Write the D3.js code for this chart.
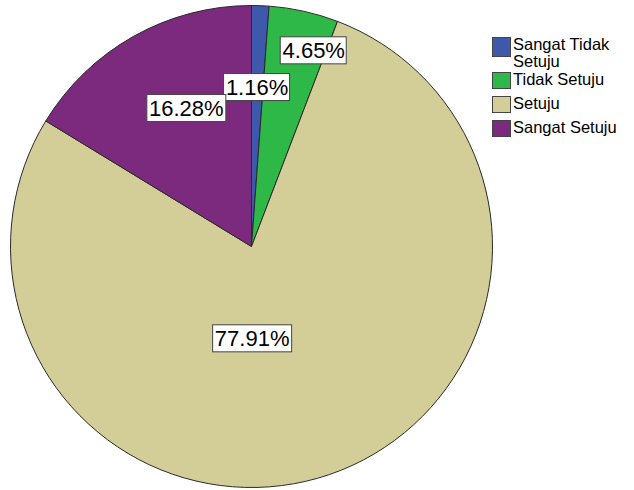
<!DOCTYPE html>
<head>
  <meta charset="utf-8">
  <title>pie</title>
</head>
<style>
body { margin: 0; background: #fff; }
svg { display: block; font-family: "Liberation Sans", Arial, sans-serif; }
.slice { stroke: #2a2a2a; stroke-width: 1; }
.lbl-box { fill: #fff; stroke: #444; stroke-width: 1; }
.lbl { font-size: 22px; fill: #000; }
.leg text { font-size: 16.5px; fill: #000; }
.leg rect { stroke: #444; stroke-width: 1; }
</style>
<body>
<svg width="634" height="490"></svg>
<script src="https://d3js.org/d3.v7.min.js"></script>
<script>
var categories = ["Sangat Tidak Setuju", "Tidak Setuju", "Setuju", "Sangat Setuju"];
var values = [1.16, 4.65, 77.91, 16.28];
var colors = ["#3e58ac", "#2eb848", "#d3ce97", "#7b2a7e"];
// legend text split into lines as in the original
var legendLines = [["Sangat Tidak", "Setuju"], ["Tidak Setuju"], ["Setuju"], ["Sangat Setuju"]];
// label placement (angle in degrees clockwise from top, radius fraction)
var labelAngle = [2.0, 17.6, 179.6, 334.8];
var labelRadius = [0.662, 0.854, 0.381, 0.635];

var svg = d3.select("svg"),
    cx = 251.5, cy = 246.5, r = 241;

var pie = d3.pie().sort(null).value(function(d) { return d; });
var arc = d3.arc().innerRadius(0).outerRadius(r);

var g = svg.append("g").attr("transform", "translate(" + cx + "," + cy + ")");

g.selectAll("path")
  .data(pie(values))
  .enter().append("path")
    .attr("class", "slice")
    .attr("fill", function(d, i) { return colors[i]; })
    .attr("d", arc);

var labels = g.selectAll(".label")
  .data(values)
  .enter().append("g")
    .attr("class", "label")
    .attr("transform", function(d, i) {
      var a = labelAngle[i] * Math.PI / 180, rr = labelRadius[i] * r;
      return "translate(" + (rr * Math.sin(a)) + "," + (-rr * Math.cos(a)) + ")";
    });

labels.append("rect").attr("class", "lbl-box");
labels.append("text")
    .attr("class", "lbl")
    .attr("text-anchor", "middle")
    .attr("dy", "0.36em")
    .text(function(d) { return d.toFixed(2) + "%"; });

labels.each(function() {
  var t = d3.select(this).select("text").node().getBBox();
  d3.select(this).select("rect")
    .attr("x", Math.round(t.x) - 2.5)
    .attr("y", -13.5)
    .attr("width", Math.round(t.width) + 4)
    .attr("height", 27);
});

// legend
var legY = [37, 72, 96, 120];
var legH = [19, 16, 16, 16];
var leg = svg.append("g").attr("class", "leg");
categories.forEach(function(c, i) {
  leg.append("rect")
    .attr("x", 492.5).attr("y", legY[i] + 0.5)
    .attr("width", 18).attr("height", legH[i])
    .attr("fill", colors[i]);
  var t = leg.append("text");
  legendLines[i].forEach(function(line, k) {
    t.append("tspan").attr("x", 513).attr("y", legY[i] + 7 + k * 17)
      .attr("dy", "0.35em").text(line);
  });
});
</script>
</body>
